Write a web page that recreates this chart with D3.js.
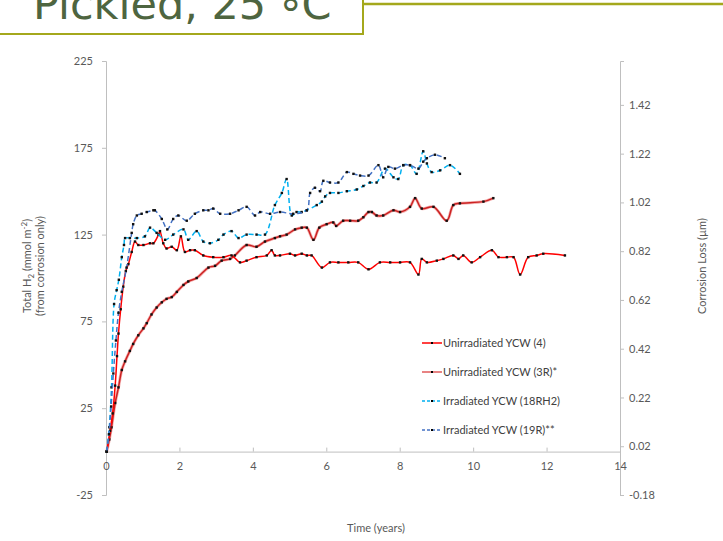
<!DOCTYPE html>
<html>
<head>
<meta charset="utf-8">
<script src="https://cdnjs.cloudflare.com/ajax/libs/d3/7.8.5/d3.min.js"></script>
<style>
  body { margin: 0; background: #fff; }
  #container { width: 723px; height: 541px; }
  .axis text { font-family: Lato, "Open Sans", sans-serif; font-size: 11px; fill: #595959; }
  .axis path, .axis line { stroke: #bfbfbf; }
  .label { font-family: Lato, "Open Sans", sans-serif; font-size: 11px; fill: #595959; }
  .legend text { font-family: Lato, "Open Sans", sans-serif; font-size: 11px; fill: #404040; }
</style>
</head>
<body>
<div id="container"></div>
<script>
// [time (years), total H2 (mmol m-2)]
const ycw4 = [[0.02,0],[0.11,12],[0.18,22],[0.25,38],[0.30,55],[0.34,68],[0.40,82],[0.47,95],[0.54,104],[0.61,108],[0.70,115],[0.79,121],[0.88,119],[1.02,119],[1.20,120],[1.29,120],[1.43,125],[1.47,127],[1.56,120],[1.65,117],[1.79,118],[1.93,116],[2.04,124],[2.15,115],[2.29,116],[2.42,116],[2.65,113],[2.92,112],[3.20,112],[3.42,113],[3.65,109],[3.83,110],[4.10,112],[4.38,113],[4.51,116],[4.60,113],[4.74,113],[5.01,114],[5.15,113],[5.33,114],[5.47,113],[5.60,113],[5.88,106],[6.10,109],[6.33,109],[6.60,109],[6.87,109],[7.15,105],[7.46,109],[7.74,109],[8.01,109],[8.28,109],[8.51,102],[8.60,111],[8.74,109],[9.01,110],[9.19,111],[9.46,113],[9.60,111],[9.73,113],[9.96,109],[10.19,112],[10.51,116],[10.69,112],[10.92,112],[11.10,112],[11.28,102],[11.50,112],[11.73,113],[11.91,114],[12.50,113]];

const ycw3R = [[0.02,0],[0.09,7],[0.15,14],[0.25,28],[0.34,37],[0.43,47],[0.52,52],[0.65,58],[0.74,62],[0.88,67],[1.02,71],[1.11,74],[1.24,79],[1.38,83],[1.52,86],[1.65,88],[1.79,89],[1.93,92],[2.11,96],[2.24,98],[2.47,100],[2.79,106],[2.97,107],[3.15,110],[3.38,111],[3.51,113],[3.83,119],[4.10,118],[4.33,121],[4.60,123],[4.74,124],[4.92,125],[5.15,128],[5.33,129],[5.47,129],[5.65,122],[5.81,129],[6.01,131],[6.19,132],[6.27,130],[6.46,133],[6.65,133],[6.87,133],[7.01,135],[7.15,138],[7.24,138],[7.37,136],[7.55,136],[7.83,139],[8.01,138],[8.28,141],[8.42,146],[8.60,140],[8.92,141],[9.28,133],[9.46,142],[9.64,143],[10.28,144],[10.55,146]];

const ycw18RH2 = [[0.02,0],[0.09,14],[0.15,37],[0.22,85],[0.29,93],[0.35,99],[0.43,112],[0.49,119],[0.52,123],[0.65,123],[0.84,123],[1.06,124],[1.20,129],[1.38,126],[1.61,122],[1.83,125],[2.11,128],[2.24,122],[2.47,127],[2.65,121],[2.83,120],[3.06,122],[3.20,125],[3.42,127],[3.61,123],[3.83,125],[4.10,125],[4.33,125],[4.60,142],[4.79,149],[4.92,157],[5.06,136],[5.19,138],[5.33,138],[5.47,139],[5.74,142],[5.88,144],[5.97,147],[6.10,149],[6.33,149],[6.56,150],[6.83,151],[7.01,153],[7.19,155],[7.37,155],[7.60,163],[7.83,158],[7.96,157],[8.10,165],[8.28,165],[8.46,160],[8.64,173],[8.74,166],[8.87,161],[9.10,162],[9.37,165],[9.64,160]];

const ycw19R = [[0.02,0],[0.08,10],[0.14,26],[0.20,45],[0.27,64],[0.34,80],[0.43,92],[0.56,106],[0.70,126],[0.74,131],[0.84,136],[0.97,137],[1.11,138],[1.29,139],[1.33,139],[1.52,134],[1.67,128],[1.83,134],[1.97,136],[2.20,133],[2.42,137],[2.65,139],[2.79,139],[2.92,140],[3.11,137],[3.38,137],[3.61,139],[3.83,141],[4.06,136],[4.20,138],[4.47,137],[4.74,138],[5.10,137],[5.47,139],[5.56,149],[5.69,152],[5.83,150],[5.92,156],[6.10,155],[6.33,155],[6.56,161],[6.74,160],[6.92,159],[7.15,159],[7.42,165],[7.55,158],[7.69,164],[7.87,163],[8.10,165],[8.28,165],[8.51,163],[8.64,167],[8.74,169],[8.96,171],[9.23,169]];

const seriesNames = ["Unirradiated YCW (4)", "Unirradiated YCW (3R)*", "Irradiated YCW (18RH2)", "Irradiated YCW (19R)**"];
const leftTicks = [-25, 25, 75, 125, 175, 225];
const rightTicks = [-0.18, 0.02, 0.22, 0.42, 0.62, 0.82, 1.02, 1.22, 1.42];
const xTicks = [0, 2, 4, 6, 8, 10, 12, 14];

const w = 723,
      h = 541,
      plot = {left: 106, right: 620, top: 61, bottom: 495};

const styles = [
    {color: "#ff0000", dash: null, halo: null},
    {color: "#cc2222", dash: null, halo: "#f4b0b0"},
    {color: "#00b0f0", dash: "5,3", halo: null},
    {color: "#4472c4", dash: "5,3", halo: null}
];

const x = d3.scaleLinear().domain([0, 14]).range([plot.left, plot.right]);
const yLeft = d3.scaleLinear().domain([-25, 225]).range([plot.bottom, plot.top]);
const yRight = d3.scaleLinear().domain([-0.18, 1.60]).range([plot.bottom, plot.top]);

let svg = d3.select("#container")
    .append("svg")
    .attr("width", w)
    .attr("height", h);

// title box cut by the top edge
svg.append("line")
    .attr("x1", 363).attr("x2", w)
    .attr("y1", 4).attr("y2", 4)
    .attr("stroke", "#a4a81c")
    .attr("stroke-width", 2.5);

svg.append("rect")
    .attr("x", -2).attr("y", -30)
    .attr("width", 365).attr("height", 64)
    .attr("fill", "#fff")
    .attr("stroke", "#a4a81c")
    .attr("stroke-width", 2);

let title = svg.append("text")
    .attr("x", 33).attr("y", 19)
    .attr("font-family", "DejaVu Sans, sans-serif")
    .attr("font-size", 43)
    .attr("fill", "#4e6540");
title.append("tspan").text("Pickled, 25 ");
title.append("tspan").attr("dy", 11).text("°");
title.append("tspan").attr("dy", -11).text("C");

// axes
svg.append("g")
    .attr("class", "axis")
    .attr("transform", "translate(" + plot.left + ",0)")
    .call(d3.axisLeft(yLeft).tickValues(leftTicks).tickSizeOuter(0).tickSize(4).tickPadding(9)
          .tickFormat((d) => String(d)));

svg.append("g")
    .attr("class", "axis")
    .attr("transform", "translate(" + plot.right + ",0)")
    .call(d3.axisRight(yRight).tickValues(rightTicks).tickSizeOuter(0).tickSize(4).tickPadding(5)
          .tickFormat((d) => d.toFixed(2)));

svg.append("g")
    .attr("class", "axis")
    .attr("transform", "translate(0," + yLeft(0) + ")")
    .call(d3.axisBottom(x).tickValues(xTicks).tickSizeOuter(0).tickSizeInner(-4).tickPadding(11)
          .tickFormat((d) => String(d)));

// axis titles
let yTitle = svg.append("text")
    .attr("class", "label")
    .attr("text-anchor", "middle")
    .attr("transform", "translate(31,266) rotate(-90)");
yTitle.append("tspan").text("Total  H");
yTitle.append("tspan").attr("font-size", 8).attr("dy", 3).text("2");
yTitle.append("tspan").attr("dy", -3).text(" (mmol m");
yTitle.append("tspan").attr("font-size", 8).attr("dy", -4).text("-2");
yTitle.append("tspan").attr("dy", 4).text(")");

svg.append("text")
    .attr("class", "label")
    .attr("text-anchor", "middle")
    .attr("transform", "translate(44,266) rotate(-90)")
    .text("(from corrosion only)");

svg.append("text")
    .attr("class", "label")
    .attr("text-anchor", "middle")
    .attr("transform", "translate(706,266) rotate(-90)")
    .text("Corrosion Loss (µm)");

svg.append("text")
    .attr("class", "label")
    .attr("text-anchor", "middle")
    .attr("x", 376).attr("y", 532)
    .text("Time (years)");

// series
const line = d3.line()
    .x((d) => x(d[0]))
    .y((d) => yLeft(d[1]))
    .curve(d3.curveCatmullRom.alpha(0.5));

const allSeries = [ycw4, ycw3R, ycw18RH2, ycw19R];

function drawSeries(data, st) {
    let g = svg.append("g");
    if (st.halo) {
        g.append("path")
            .attr("d", line(data))
            .attr("fill", "none")
            .attr("stroke", st.halo)
            .attr("stroke-width", 3);
    }
    g.append("path")
        .attr("d", line(data))
        .attr("fill", "none")
        .attr("stroke", st.color)
        .attr("stroke-width", 1.5)
        .attr("stroke-dasharray", st.dash);
    g.selectAll("rect")
        .data(data)
        .enter()
        .append("rect")
        .attr("x", (d) => x(d[0]) - 1.2)
        .attr("y", (d) => yLeft(d[1]) - 1.2)
        .attr("width", 2.4)
        .attr("height", 2.4)
        .attr("fill", "#111");
}

[1, 0, 2, 3].forEach((i) => drawSeries(allSeries[i], styles[i]));

// legend
let legend = svg.append("g")
    .attr("class", "legend")
    .attr("transform", "translate(422,343)");

let items = legend.selectAll("g")
    .data(seriesNames)
    .enter()
    .append("g")
    .attr("transform", (d, i) => "translate(0," + i * 29 + ")");

items.append("line")
    .attr("x1", 0).attr("x2", 20)
    .attr("stroke", (d, i) => i === 1 ? "#e05a5a" : styles[i].color)
    .attr("stroke-width", 1.5)
    .attr("stroke-dasharray", (d, i) => styles[i].dash ? "3,2" : null);

items.append("rect")
    .attr("x", 9).attr("y", -1)
    .attr("width", 2).attr("height", 2)
    .attr("fill", "#000");

items.append("text")
    .attr("x", 21)
    .attr("dy", "0.35em")
    .text((d) => d);
</script>
</body>
</html>
